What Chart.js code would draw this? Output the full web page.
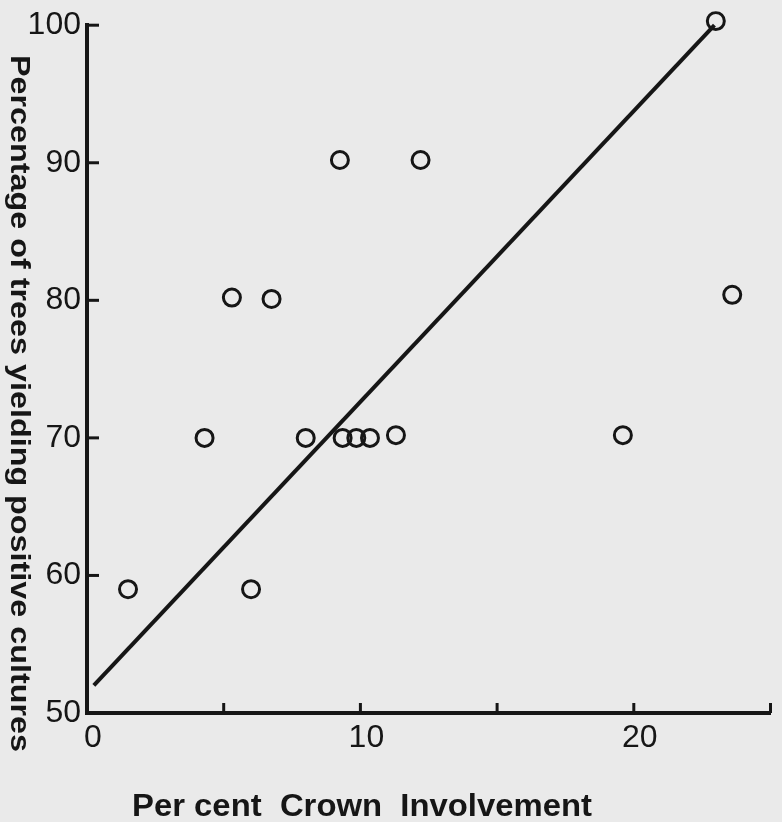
<!DOCTYPE html>
<html>
<head>
<meta charset="utf-8">
<script src="https://cdn.jsdelivr.net/npm/chart.js@4.4.0/dist/chart.umd.min.js"></script>
<style>
    html, body { margin: 0; padding: 0; background: #eaeaea; }
    #wrap { width: 782px; height: 822px; }
</style>
</head>
<body>
<div id="wrap"><canvas id="crown_chart" width="782" height="822"></canvas></div>
<script>
// per cent crown involvement vs. percentage of trees yielding positive cultures
var crownX    = [1.5, 6.0, 4.3, 8.0, 9.35, 9.85, 10.35, 11.3, 5.3, 6.75, 9.25, 12.2, 23.0, 23.6, 19.6];
var positiveY = [59, 59, 70, 70, 70, 70, 70, 70.2, 80.2, 80.1, 90.2, 90.2, 100.3, 80.4, 70.2];
// fitted line, read at its two ends
var fitX = [0.25, 22.95];
var fitY = [52, 100];
var xTicks = [0, 5, 10, 15, 20, 25];
var xTickLabels = ["0", "", "10", "", "20", ""];
var yTicks = [50, 60, 70, 80, 90, 100];
var yTickLabels = ["50", "60", "70", "80", "90", "100"];
var xTitle = "Per cent  Crown  Involvement";
var yTitle = "Percentage of trees yielding positive cultures";

(function() {
    var ink = "#161616";

    let points = [];
    for (let i = 0; i < crownX.length; i++) {
        points.push({x: crownX[i], y: positiveY[i]});
    }
    let fitLine = [];
    for (let i = 0; i < fitX.length; i++) {
        fitLine.push({x: fitX[i], y: fitY[i]});
    }

    // ticks point inwards in the original, and the titles are hand lettered
    var paperAxes = {
        id: "paperAxes",
        afterDraw: function(chart) {
            let ctx = chart.ctx;
            let xs = chart.scales.x;
            let ys = chart.scales.y;
            let area = chart.chartArea;
            ctx.save();
            ctx.strokeStyle = ink;
            ctx.lineWidth = 3;
            xTicks.forEach(function(v) {
                if (v === 0) return;
                let px = xs.getPixelForValue(v);
                ctx.beginPath();
                ctx.moveTo(px, area.bottom);
                ctx.lineTo(px, area.bottom - 10);
                ctx.stroke();
            });
            yTicks.forEach(function(v) {
                if (v === 50) return;
                let py = ys.getPixelForValue(v);
                ctx.beginPath();
                ctx.moveTo(area.left, py);
                ctx.lineTo(area.left + 12, py);
                ctx.stroke();
            });

            ctx.fillStyle = ink;
            ctx.textAlign = "left";
            ctx.textBaseline = "alphabetic";

            // x title
            ctx.save();
            ctx.font = "bold 32px 'Liberation Sans'";
            let w = ctx.measureText(xTitle).width;
            ctx.translate(132, 816);
            ctx.scale(460 / w, 1);
            ctx.fillText(xTitle, 0, 0);
            ctx.restore();

            // y title, reads top to bottom
            ctx.save();
            ctx.font = "bold 28px 'Liberation Sans'";
            let h = ctx.measureText(yTitle).width;
            ctx.translate(11, 55);
            ctx.rotate(Math.PI / 2);
            ctx.scale(697 / h, 1);
            ctx.fillText(yTitle, 0, 0);
            ctx.restore();

            ctx.restore();
        }
    };

    new Chart("crown_chart", {
        type: "scatter",
        data: {
            datasets: [
                {
                    label: "trees",
                    data: points,
                    pointStyle: "circle",
                    pointRadius: 8.5,
                    pointBorderWidth: 3,
                    borderColor: ink,
                    backgroundColor: "rgba(0,0,0,0)",
                    showLine: false,
                    clip: 14
                },
                {
                    label: "fit",
                    type: "line",
                    data: fitLine,
                    borderColor: ink,
                    borderWidth: 4,
                    pointRadius: 0,
                    fill: false,
                    clip: 14
                }
            ]
        },
        options: {
            responsive: false,
            animation: false,
            layout: {
                padding: {top: 23, right: 2, left: 0, bottom: 0}
            },
            scales: {
                x: {
                    type: "linear",
                    min: 0,
                    max: 25,
                    afterBuildTicks: function(scale) {
                        scale.ticks = xTicks.map(function(v) { return {value: v}; });
                    },
                    afterFit: function(scale) {
                        scale.height = 109;
                    },
                    ticks: {
                        autoSkip: false,
                        maxRotation: 0,
                        padding: 6,
                        labelOffset: 6,
                        color: ink,
                        font: {family: "'Liberation Sans'", size: 32},
                        callback: function(value) {
                            return xTickLabels[xTicks.indexOf(value)];
                        }
                    },
                    grid: {display: false, drawTicks: false},
                    border: {display: true, color: ink, width: 4}
                },
                y: {
                    min: 50,
                    max: 100,
                    afterBuildTicks: function(scale) {
                        scale.ticks = yTicks.map(function(v) { return {value: v}; });
                    },
                    afterFit: function(scale) {
                        scale.width = 87;
                    },
                    ticks: {
                        autoSkip: false,
                        padding: 6,
                        color: ink,
                        font: {family: "'Liberation Sans'", size: 32},
                        callback: function(value) {
                            return yTickLabels[yTicks.indexOf(value)];
                        }
                    },
                    grid: {display: false, drawTicks: false},
                    border: {display: true, color: ink, width: 4}
                }
            },
            plugins: {
                legend: {display: false},
                tooltip: {enabled: false}
            }
        },
        plugins: [paperAxes]
    });
})();
</script>
</body>
</html>
